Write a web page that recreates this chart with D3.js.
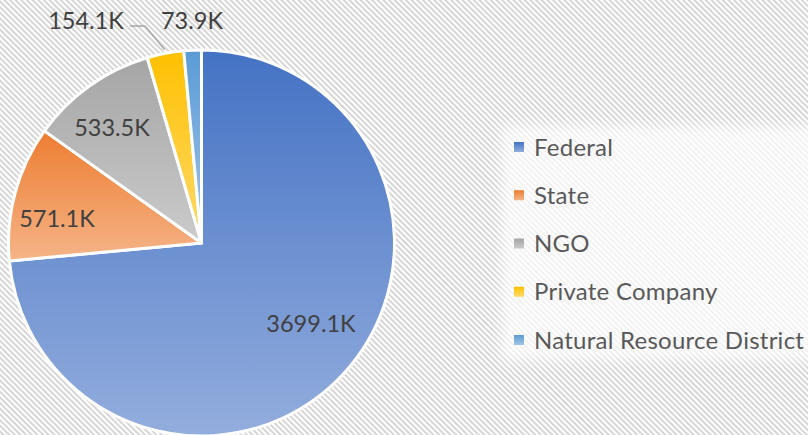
<!DOCTYPE html>
<html><head><meta charset="utf-8">
<script src="https://cdn.jsdelivr.net/npm/d3@7"></script>
<style>html,body{margin:0;padding:0;background:#fff;}svg{display:block;}</style>
</head><body>
<svg id="chart" width="808" height="435"></svg>
<script>
const categories = ["Federal", "State", "NGO", "Private Company", "Natural Resource District"];
const values = [3699.1, 571.1, 533.5, 154.1, 73.9];
const labels = ["3699.1K", "571.1K", "533.5K", "154.1K", "73.9K"];
const colors = ["#4472C4", "#ED7D31", "#A5A5A5", "#FFC000", "#5B9BD5"];

const svg = d3.select("#chart");
const W = 808, H = 435;
const defs = svg.append("defs");

// striped background
const pat = defs.append("pattern").attr("id","stripes").attr("patternUnits","userSpaceOnUse")
  .attr("width",4).attr("height",4).attr("patternTransform","rotate(45)");
pat.append("rect").attr("width",4).attr("height",4).attr("fill","#ffffff");
pat.append("rect").attr("width",4).attr("height",2).attr("fill","#d6d6d6");
svg.append("rect").attr("width",W).attr("height",H).attr("fill","url(#stripes)");

// legend soft background
const blur = defs.append("filter").attr("id","soft").attr("x","-10%").attr("y","-10%").attr("width","120%").attr("height","120%");
blur.append("feGaussianBlur").attr("stdDeviation",6);
svg.append("rect").attr("x",502).attr("y",126).attr("width",320).attr("height",234)
  .attr("fill","#ffffff").attr("opacity",0.7).attr("filter","url(#soft)");

// gradients
function lighten(c, t){ return d3.interpolateRgb(c, "#ffffff")(t); }
colors.forEach((c,i)=>{
  const g = defs.append("linearGradient").attr("id","g"+i)
    .attr("x1",0).attr("y1",0).attr("x2",0).attr("y2",1);
  g.append("stop").attr("offset","0%").attr("stop-color",c);
  g.append("stop").attr("offset","100%").attr("stop-color",lighten(c,0.42));
});

const cx = 201.5, cy = 243, R = 193;
const pie = d3.pie().sort(null).value(d=>d.v);
const data = pie(categories.map((k,i)=>({k, v: values[i], l: labels[i], i})));
const arc = d3.arc().innerRadius(0).outerRadius(R);

const g = svg.append("g").attr("transform",`translate(${cx},${cy})`);
g.selectAll("path").data(data).join("path")
  .attr("d",arc)
  .attr("fill",d=>`url(#g${d.data.i})`)
  .attr("stroke","#ffffff").attr("stroke-width",3).attr("stroke-linejoin","round");

// labels
const labelPos = [
  {x:311, y:323}, {x:57, y:218}, {x:112, y:127}, {x:86, y:20}, {x:192, y:20}
];
svg.append("g").selectAll("text").data(data).join("text")
  .attr("x",(d,i)=>labelPos[i].x).attr("y",(d,i)=>labelPos[i].y)
  .attr("text-anchor","middle").attr("dominant-baseline","central")
  .attr("font-family","Lato, 'Open Sans', sans-serif").attr("font-size",23.5)
  .attr("fill","#404040").text(d=>d.data.l);

// leader line for Private Company
const pc = data[3];
const mid = (pc.startAngle+pc.endAngle)/2;
const ex = cx + Math.sin(mid)*(R+4), ey = cy - Math.cos(mid)*(R+4);
svg.append("path")
  .attr("d",`M${130},${26}L${145},${26}L${ex},${ey}`)
  .attr("fill","none").attr("stroke","#a6a6a6").attr("stroke-width",1.3);

// legend
const lg = svg.append("g");
const rowY = d3.scalePoint().domain(categories).range([147, 340]);
const items = lg.selectAll("g").data(categories).join("g")
  .attr("transform",d=>`translate(514,${rowY(d)})`);
items.append("rect").attr("x",0).attr("y",-5).attr("width",10).attr("height",10)
  .attr("fill",(d,i)=>`url(#g${i})`);
items.append("text").attr("x",20).attr("y",-1).attr("dominant-baseline","central")
  .attr("font-family","Lato, 'Open Sans', sans-serif").attr("font-size",24)
  .attr("letter-spacing","0.25px")
  .attr("fill","#595959").text(d=>d);
</script>
</body></html>
